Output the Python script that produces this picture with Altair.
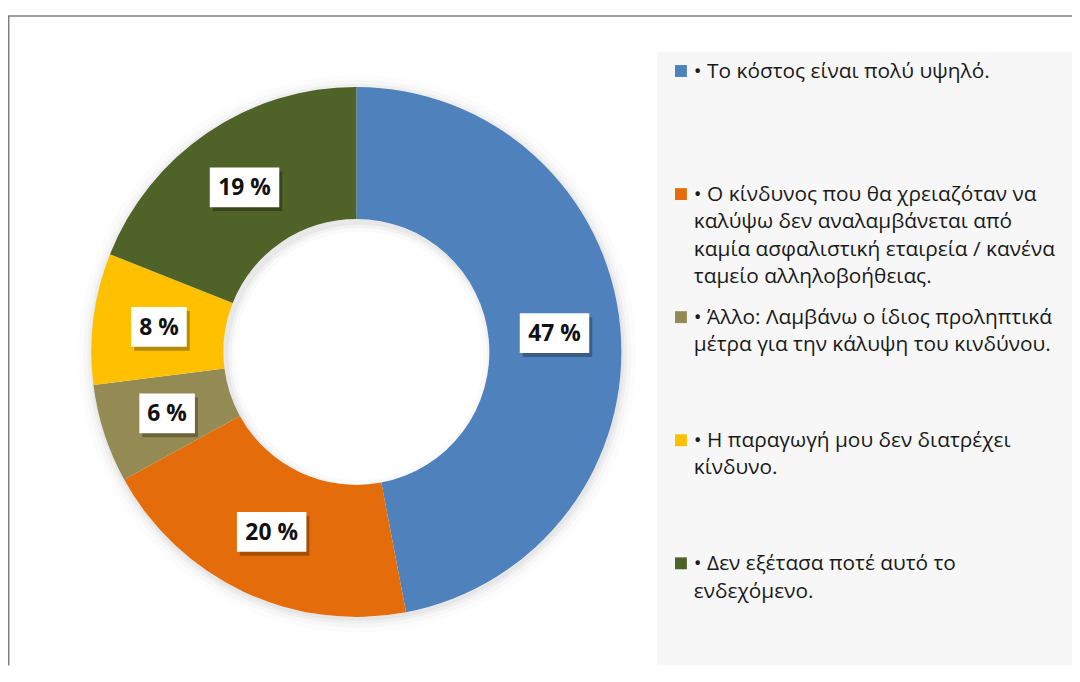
import altair as alt
import pandas as pd
import numpy as np

# ---- data ----
categories = [
    "Το κόστος είναι πολύ υψηλό.",
    "Ο κίνδυνος που θα χρειαζόταν να καλύψω δεν αναλαμβάνεται από καμία ασφαλιστική εταιρεία / κανένα ταμείο αλληλοβοήθειας.",
    "Άλλο: Λαμβάνω ο ίδιος προληπτικά μέτρα για την κάλυψη του κινδύνου.",
    "Η παραγωγή μου δεν διατρέχει κίνδυνο.",
    "Δεν εξέτασα ποτέ αυτό το ενδεχόμενο.",
]
legend_text = [
    "• Το κόστος είναι πολύ υψηλό.",
    "• Ο κίνδυνος που θα χρειαζόταν να\nκαλύψω δεν αναλαμβάνεται από\nκαμία ασφαλιστική εταιρεία / κανένα\nταμείο αλληλοβοήθειας.",
    "• Άλλο: Λαμβάνω ο ίδιος προληπτικά\nμέτρα για την κάλυψη του κινδύνου.",
    "• Η παραγωγή μου δεν διατρέχει\nκίνδυνο.",
    "• Δεν εξέτασα ποτέ αυτό το\nενδεχόμενο.",
]
values = [47, 20, 6, 8, 19]
colors = ["#4F81BD", "#E46C0A", "#948A54", "#FFC000", "#4F6228"]

# ---- layout (pixels) ----
W, H = 1072, 660
CX, CY = 351, 344
R_OUT, R_IN = 267, 134
FONT = "Open Sans"

df = pd.DataFrame({
    "cat": categories,
    "value": values,
    "order": list(range(len(values))),
    "label": [f"{v} %" for v in values],
    "legend": legend_text,
})
total = df["value"].sum()
cum = df["value"].cumsum()
mid = (cum - df["value"] / 2) / total * 2 * np.pi
lab_r = (R_IN + R_OUT) / 2 / R_OUT
df["lx"] = lab_r * np.sin(mid)
df["ly"] = lab_r * np.cos(mid)

one = pd.DataFrame({"k": [0]})
color_scale = alt.Scale(domain=categories, range=colors)
xs = alt.Scale(domain=[-1, 1], range=[CX - R_OUT, CX + R_OUT], nice=False)
ys = alt.Scale(domain=[-1, 1], range=[CY + R_OUT, CY - R_OUT], nice=False)

# border lines
top_border = alt.Chart(one).mark_rule(color="#808080", strokeWidth=1.5).encode(
    x=alt.value(0), x2=alt.value(W), y=alt.value(5.5))
left_border = alt.Chart(one).mark_rule(color="#808080", strokeWidth=1.5).encode(
    x=alt.value(0.75), y=alt.value(5.5), y2=alt.value(H))

# legend background
legend_bg = alt.Chart(one).mark_rect(color="#f7f7f7").encode(
    x=alt.value(654), x2=alt.value(W), y=alt.value(42), y2=alt.value(H))

# soft shadows around donut
glows = []
for dr, op in [(2, 0.035), (5, 0.03), (9, 0.02), (14, 0.012)]:
    glows.append(alt.Chart(one).mark_arc(theta=0, theta2=2 * np.pi, innerRadius=R_OUT - 2,
                                         outerRadius=R_OUT + dr, color="black", opacity=op)
                 .encode(x=alt.value(CX + 1), y=alt.value(CY + 2)))
for dr, op in [(2, 0.04), (5, 0.03), (9, 0.02)]:
    glows.append(alt.Chart(one).mark_arc(theta=0, theta2=2 * np.pi, innerRadius=R_IN - dr,
                                         outerRadius=R_IN + 10, color="black", opacity=op)
                 .encode(x=alt.value(CX + 3), y=alt.value(CY + 4)))

arcs = alt.Chart(df).mark_arc(outerRadius=R_OUT, innerRadius=R_IN).encode(
    theta=alt.Theta("value:Q", stack=True),
    color=alt.Color("cat:N", scale=color_scale, legend=None),
    order=alt.Order("order:Q"),
    x=alt.value(CX), y=alt.value(CY),
)

base = alt.Chart(df).encode(
    x=alt.X("lx:Q", scale=xs, axis=None),
    y=alt.Y("ly:Q", scale=ys, axis=None),
)
wide = "datum.value >= 10"
narrow = "datum.value < 10"
shadow_w = base.transform_filter(wide).mark_rect(width=70, height=40, color="black", opacity=0.28,
                                                   xOffset=3, yOffset=4)
shadow_n = base.transform_filter(narrow).mark_rect(width=56, height=40, color="black", opacity=0.28,
                                                     xOffset=3, yOffset=4)
box_w = base.transform_filter(wide).mark_rect(width=70, height=40, color="white")
box_n = base.transform_filter(narrow).mark_rect(width=56, height=40, color="white")
labels = base.mark_text(font=FONT, fontWeight="bold", fontSize=23, color="#111111",
                        baseline="middle", align="center", dy=1).encode(text="label:N")

leg_y = alt.Y("cat:N", sort=categories, axis=None,
              scale=alt.Scale(domain=categories, range=[61, 557], padding=0))
leg_sym = alt.Chart(df).mark_square(size=144, opacity=1).encode(
    x=alt.value(678), y=leg_y,
    color=alt.Color("cat:N", scale=color_scale, legend=None),
)
leg_txt = alt.Chart(df).mark_text(
    align="left", baseline="alphabetic", dy=7, lineBreak="\n", lineHeight=27.5,
    font=FONT, fontSize=21, color="#1a1a1a",
).encode(x=alt.value(691), y=leg_y, text="legend:N")

chart = alt.layer(
    top_border, left_border, legend_bg, *glows, arcs,
    shadow_w, shadow_n, box_w, box_n, labels,
    leg_sym, leg_txt,
).resolve_scale(y="independent", x="independent").properties(
    width=W, height=H, autosize=alt.AutoSizeParams(type="none"), padding=0,
    background="white",
).configure_view(stroke=None)

chart.save("out.html", embed_options={"renderer": "svg", "actions": False})
